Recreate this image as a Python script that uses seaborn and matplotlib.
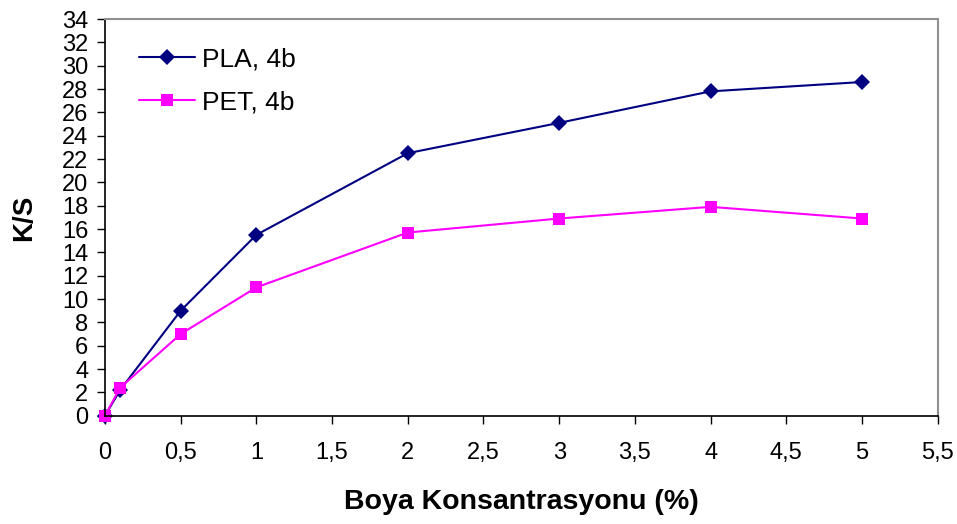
import matplotlib
matplotlib.use("Agg")
import matplotlib.pyplot as plt
import seaborn as sns
import pandas as pd
from matplotlib.ticker import MultipleLocator, FuncFormatter

# Dye concentration (%) and K/S values
concentration = [0, 0.1, 0.5, 1, 2, 3, 4, 5]
pla_ks = [0, 2.2, 9.0, 15.5, 22.5, 25.1, 27.8, 28.6]
pet_ks = [0, 2.4, 7.0, 11.0, 15.7, 16.9, 17.9, 16.9]
series_names = ["PLA, 4b", "PET, 4b"]

sns.set_theme(style="white", rc={"text.color": "black", "axes.labelcolor": "black",
                                  "xtick.color": "black", "ytick.color": "black"})
plt.rcParams["font.family"] = ["Liberation Sans", "DejaVu Sans"]

df = pd.DataFrame({
    "x": concentration * 2,
    "y": pla_ks + pet_ks,
    "series": [series_names[0]] * len(concentration) + [series_names[1]] * len(concentration),
})

fig = plt.figure(figsize=(9.57, 5.24), dpi=100)
ax = fig.add_axes([0.1097, 0.2067, 0.8701, 0.757])

sns.lineplot(data=df, x="x", y="y", hue="series", style="series",
             palette={series_names[0]: "#000080", series_names[1]: "#FF00FF"},
             markers={series_names[0]: "D", series_names[1]: "s"},
             dashes=False, markersize=8.5, linewidth=1.5,
             markeredgewidth=0, ax=ax, legend=True, clip_on=False)

ax.set_xlim(0, 5.5)
ax.set_ylim(0, 34)
ax.xaxis.set_major_locator(MultipleLocator(0.5))
ax.yaxis.set_major_locator(MultipleLocator(2))
comma = FuncFormatter(lambda v, p: ("%g" % v).replace(".", ","))
ax.xaxis.set_major_formatter(comma)
ax.yaxis.set_major_formatter(FuncFormatter(lambda v, p: "%d" % round(v)))

for side in ("left", "bottom"):
    ax.spines[side].set_color("black")
    ax.spines[side].set_linewidth(1.2)
for side in ("top", "right"):
    ax.spines[side].set_color("#909090")
    ax.spines[side].set_linewidth(1.5)

ax.tick_params(axis="both", which="major", direction="out", length=6, width=1,
               color="black", labelsize=17, labelcolor="black",
               bottom=True, left=True, top=False, right=False)
ax.tick_params(axis="x", pad=13)
ax.tick_params(axis="y", pad=6)

ax.set_xlabel("Boya Konsantrasyonu (%)", fontsize=20.5, fontweight="bold", labelpad=18)
ax.set_ylabel("K/S", fontsize=20, fontweight="bold", labelpad=18)

leg = ax.legend(loc="upper left", bbox_to_anchor=(0.012, 0.988), frameon=False,
                fontsize=19, handlelength=2.15, handletextpad=0.25, labelspacing=0.7)

fig.savefig("out.png", dpi=100)
